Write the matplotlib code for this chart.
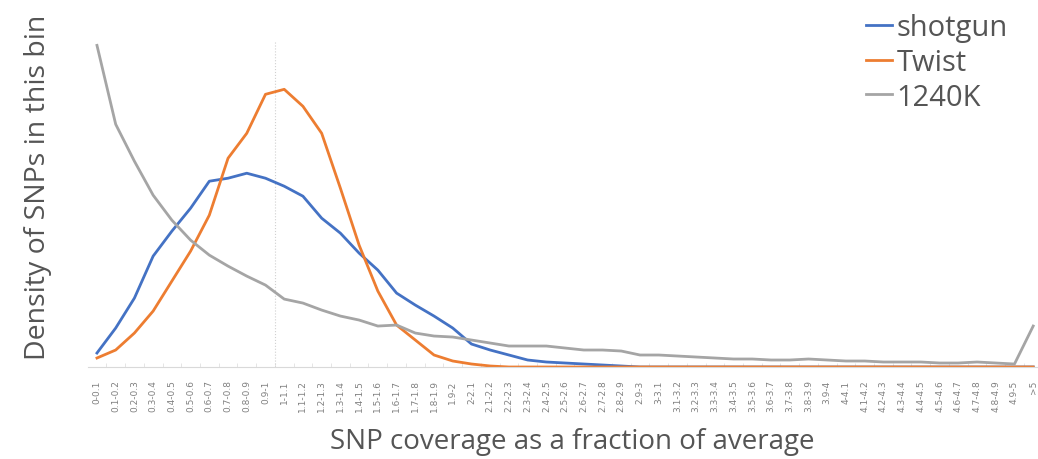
import matplotlib
matplotlib.use('Agg')
import matplotlib.pyplot as plt
import numpy as np

# bins of coverage / mean coverage
bins = ['%g-%g' % (i / 10, (i + 1) / 10) for i in range(50)] + ['>5']

shotgun = [14, 39, 69, 111, 136, 159, 186, 189, 194, 189, 181, 171, 149, 134, 114, 97,
           74, 62, 51, 39, 23, 17, 12, 7, 5, 4, 3, 2, 1, 0, 0, 0, 0, 0, 0, 0, 0, 0, 0,
           0, 0, 0, 0, 0, 0, 0, 0, 0, 0, 0, 0]
twist = [9, 17, 34, 56, 86, 116, 152, 209, 234, 273, 278, 261, 234, 179, 122, 76,
         42, 27, 12, 6, 3, 1, 0, 0, 0, 0, 0, 0, 0, 0, 0, 0, 0, 0, 0, 0, 0, 0, 0, 0,
         0, 0, 0, 0, 0, 0, 0, 0, 0, 0, 0]
k1240 = [322, 243, 206, 172, 147, 127, 112, 101, 91, 82, 68, 64, 57, 51, 47, 41,
         42, 34, 31, 30, 27, 24, 21, 21, 21, 19, 17, 17, 16, 12, 12, 11, 10, 9,
         8, 8, 7, 7, 8, 7, 6, 6, 5, 5, 5, 4, 4, 5, 4, 3, 41]

fig = plt.figure(figsize=(10.38, 4.6), dpi=100)
ax = fig.add_axes([0.0844, 0.2, 0.92, 0.76])
x = np.arange(len(bins))

ax.axvline(9.5, ymax=0.93, color='#d0d0d0', lw=0.8, ls=':')
ax.plot(x, shotgun, color='#4472C4', lw=2, label='shotgun')
ax.plot(x, twist, color='#ED7D31', lw=2, label='Twist')
ax.plot(x, k1240, color='#A5A5A5', lw=2, label='1240K')

ax.set_xlim(-0.5, 50.5)
ax.set_ylim(0, 350)
for s in ['top', 'right', 'left']:
    ax.spines[s].set_visible(False)
ax.spines['bottom'].set_color('#d9d9d9')
ax.set_yticks([])
ax.set_xticks(x)
ax.set_xticklabels(bins, rotation=90, fontsize=6.5, color='#808080')
ax.tick_params(axis='x', which='major', length=0, pad=9)
ax.set_xticks(x[:-1] + 0.5, minor=True)
ax.tick_params(axis='x', which='minor', direction='in', length=3, color='#e0e0e0')

fig.text(572 / 1038, 1 - 442 / 460, 'SNP coverage as a fraction of average',
         fontsize=20, color='#555555', family='Open Sans', ha='center', va='center')
fig.text(38 / 1038, 1 - 187 / 460, 'Density of SNPs in this bin', rotation=90,
         fontsize=20.5, color='#555555', family='Open Sans', ha='center', va='center')

leg = ax.legend(loc='upper left', bbox_to_anchor=(866 / 1038, 1 - 14 / 460),
                bbox_transform=fig.transFigure, frameon=False,
                prop={'family': 'Open Sans', 'size': 21}, handlelength=0.9,
                handletextpad=0.15, labelspacing=0.2, borderaxespad=0, borderpad=0)
for t in leg.get_texts():
    t.set_color('#555555')

fig.savefig('out.png', dpi=100)
